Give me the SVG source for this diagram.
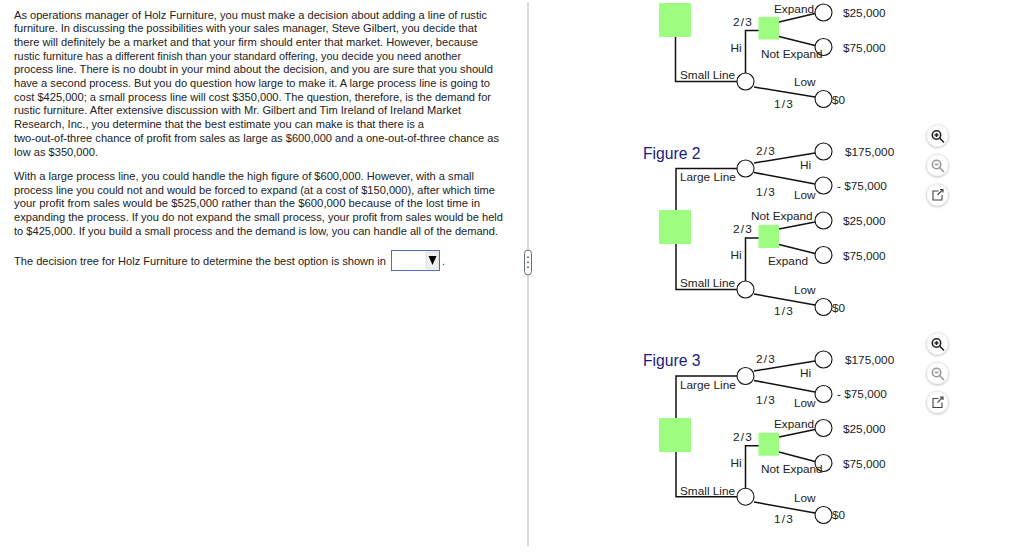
<svg xmlns="http://www.w3.org/2000/svg" width="1024" height="558" viewBox="0 0 1024 558">
<style>
text{font-family:"Liberation Sans",Arial,sans-serif;fill:#222}
.p{font-size:10.6px}
.l{font-size:11.8px}
.f{letter-spacing:1.2px}
.fig{font-size:15.7px;fill:#1a1a80}
.c{fill:#fff;stroke:#111;stroke-width:1.1}
.g{fill:#9cfd80}
.w{fill:none;stroke:#111;stroke-width:1.5}
.b{fill:#fff;filter:url(#sh)}
.i{fill:none;stroke-width:1.6}
</style>
<defs>
<filter id="sh" x="-40%" y="-40%" width="180%" height="180%"><feDropShadow dx="0" dy="0.5" stdDeviation="1.5" flood-color="#000" flood-opacity="0.4"/></filter>
<g id="zin"><circle class="b" r="10.5"/><circle class="i" cx="-1" cy="-1" r="4.2" stroke="#222" stroke-width="2"/><path class="i" d="M2 2l4.5 4.5M-3 -1h4M-1 -3v4" stroke="#222" stroke-width="2"/></g>
<g id="zout"><circle class="b" r="10.5"/><circle class="i" cx="-1" cy="-1" r="4.2" stroke="#999"/><path class="i" d="M2 2l4.5 4.5M-3 -1h4" stroke="#999"/></g>
<g id="pop"><circle class="b" r="10.5"/><path d="M1 -4h-5.500v9h9v-5M0 0l5.500 -5.500M2.500 -5.500h3v3" fill="none" stroke="#444" stroke-width="1.1"/></g>
</defs>
<rect width="1024" height="558" fill="#fff"/>
<g id="problem-text" class="p">
<text x="14" y="18.500" textLength="473" lengthAdjust="spacingAndGlyphs">As operations manager of Holz Furniture, you must make a decision about adding a line of rustic</text>
<text x="14" y="32" textLength="463" lengthAdjust="spacingAndGlyphs">furniture. In discussing the possibilities with your sales manager, Steve Gilbert, you decide that</text>
<text x="14" y="45.800" textLength="464" lengthAdjust="spacingAndGlyphs">there will definitely be a market and that your firm should enter that market.  However, because</text>
<text x="14" y="59.500" textLength="447" lengthAdjust="spacingAndGlyphs">rustic furniture has a different finish than your standard offering, you decide you need another</text>
<text x="14" y="73.200" textLength="479" lengthAdjust="spacingAndGlyphs">process line.  There is no doubt in your mind about the decision, and you are sure that you should</text>
<text x="14" y="87" textLength="476" lengthAdjust="spacingAndGlyphs">have a second process. But you do question how large to make it. A large process line is going to</text>
<text x="14" y="100.700" textLength="477" lengthAdjust="spacingAndGlyphs">cost $425,000; a small process line will cost $350,000. The question, therefore, is the demand for</text>
<text x="14" y="114.400" textLength="447" lengthAdjust="spacingAndGlyphs">rustic furniture. After extensive discussion with Mr. Gilbert and Tim Ireland of Ireland Market</text>
<text x="14" y="128" textLength="410" lengthAdjust="spacingAndGlyphs">Research, Inc., you determine that the best estimate you can make is that there is a</text>
<text x="14" y="141.800" textLength="485" lengthAdjust="spacingAndGlyphs">two-out-of-three chance of profit from sales as large as $600,000 and a one-out-of-three chance as</text>
<text x="14" y="155.500" textLength="84" lengthAdjust="spacingAndGlyphs">low as $350,000.</text>
<text x="14" y="180" textLength="460" lengthAdjust="spacingAndGlyphs">With a large process line, you could handle the high figure of $600,000. However, with a small</text>
<text x="14" y="193.700" textLength="481" lengthAdjust="spacingAndGlyphs">process line you could not and would be forced to expand (at a cost of $150,000), after which time</text>
<text x="14" y="207.400" textLength="466" lengthAdjust="spacingAndGlyphs">your profit from sales would be $525,000 rather than the $600,000 because of the lost time in</text>
<text x="14" y="221" textLength="489" lengthAdjust="spacingAndGlyphs">expanding the process. If you do not expand the small process, your profit from sales would be held</text>
<text x="14" y="235" textLength="484" lengthAdjust="spacingAndGlyphs">to $425,000. If you build a small process and the demand is low, you can handle all of the demand.</text>
<text x="14" y="265" textLength="372" lengthAdjust="spacingAndGlyphs">The decision tree for Holz Furniture to determine the best option is shown in</text>
<text x="442" y="265">.</text>
</g>
<g id="dropdown">
<rect x="391.500" y="250.500" width="48" height="20" fill="#fff" stroke="#4a6fc0" stroke-width="1"/>
<rect x="426" y="252" width="12.500" height="17" fill="#eee" stroke="#ccc" stroke-width="0.500"/>
<path d="M428.500 256h8l-4 9z" fill="#000"/>
</g>
<g id="divider">
<line x1="528" y1="2" x2="528" y2="546" stroke="#cfcfd4" stroke-width="1.500"/>
<rect x="524.500" y="250" width="7" height="25" rx="3.500" fill="#fff" stroke="#66707a" stroke-width="1"/>
<path d="M528 256.500v1.500M528 261.500v1.500M528 266.500v1.500" stroke="#444" stroke-width="1.500"/>
</g>
<g id="connectors" class="w">
<path d="M675.500 37V81.500H737"/>
<path d="M745.500 73V30.500H760"/>
<path d="M779 22L815 13.500"/><path d="M779 36.500L815 45.500"/><path d="M754 87L815 97"/>
<path d="M676 210V168.500H737"/>
<path d="M754 163L815 153"/><path d="M754 172.500L815 184"/>
<path d="M676 244V289.500H737"/>
<path d="M745.500 281V238H760"/>
<path d="M779 229L815 222"/><path d="M779 244.500L815 253.500"/><path d="M754 294L815 305"/>
<path d="M676 418V376H737"/>
<path d="M754 371L815 361"/><path d="M754 380.500L815 392"/>
<path d="M676 452V496.700H737"/>
<path d="M745.500 488V445.700H760"/>
<path d="M779 437L815 429.500"/><path d="M779 452L815 461.500"/><path d="M754 502L815 513"/>
</g>
<g id="tree1">
<rect id="n1-root" class="g" x="659" y="3" width="32" height="34"/>
<rect id="n1-dec" class="g" x="758.500" y="17" width="20.500" height="22.500"/>
<circle id="n1-chance" class="c" cx="745.500" cy="81.500" r="8.500"/>
<circle class="c" cx="823.500" cy="12.500" r="8.500"/><circle class="c" cx="823.500" cy="47" r="8.500"/><circle class="c" cx="823.500" cy="99" r="8.500"/>
<g class="l">
<text x="774" y="12.500">Expand</text><text x="843" y="17">$25,000</text>
<text class="f" x="733" y="26">2/3</text><text x="730.500" y="52">Hi</text>
<text x="761" y="58">Not Expand</text><text x="843" y="52">$75,000</text>
<text x="680" y="79">Small Line</text><text x="794" y="86">Low</text>
<text class="f" x="774" y="107.500">1/3</text><text x="832" y="104">$0</text>
</g>
</g>
<g id="figure2">
<text class="fig" x="643" y="158.500">Figure 2</text>
<rect class="g" x="659" y="210" width="32" height="34"/>
<rect class="g" x="758.500" y="225" width="20.500" height="23"/>
<circle class="c" cx="745.500" cy="168.500" r="8.500"/><circle class="c" cx="745.500" cy="289.500" r="8.500"/>
<circle class="c" cx="823.500" cy="151.500" r="8.500"/><circle class="c" cx="823.500" cy="185.500" r="8.500"/><circle class="c" cx="823.500" cy="220.500" r="8.500"/><circle class="c" cx="823.500" cy="255" r="8.500"/><circle class="c" cx="823.500" cy="307" r="8.500"/>
<g class="l">
<text class="f" x="756" y="155">2/3</text><text x="845" y="155.500">$175,000</text>
<text x="800" y="169">Hi</text><text x="680" y="181">Large Line</text>
<text class="f" x="756" y="196">1/3</text><text x="794" y="199">Low</text><text x="837" y="190">- $75,000</text>
<text x="751" y="220">Not Expand</text><text x="843" y="225">$25,000</text>
<text class="f" x="733" y="233">2/3</text><text x="730.500" y="259">Hi</text>
<text x="768" y="265">Expand</text><text x="843" y="259.500">$75,000</text>
<text x="680" y="287">Small Line</text><text x="794" y="294">Low</text>
<text class="f" x="774" y="315">1/3</text><text x="832" y="311.500">$0</text>
</g>
</g>
<g id="figure3">
<text class="fig" x="643" y="366">Figure 3</text>
<rect class="g" x="659" y="418" width="32" height="34"/>
<rect class="g" x="758.500" y="432.700" width="20.500" height="23"/>
<circle class="c" cx="745.500" cy="376" r="8.500"/><circle class="c" cx="745.500" cy="496.700" r="8.500"/>
<circle class="c" cx="823.500" cy="359.500" r="8.500"/><circle class="c" cx="823.500" cy="394" r="8.500"/><circle class="c" cx="823.500" cy="428" r="8.500"/><circle class="c" cx="823.500" cy="463" r="8.500"/><circle class="c" cx="823.500" cy="515" r="8.500"/>
<g class="l">
<text class="f" x="756" y="363">2/3</text><text x="845" y="363.500">$175,000</text>
<text x="800" y="377">Hi</text><text x="680" y="389">Large Line</text>
<text class="f" x="756" y="404">1/3</text><text x="794" y="407">Low</text><text x="837" y="398">- $75,000</text>
<text x="774" y="428">Expand</text><text x="843" y="432.500">$25,000</text>
<text class="f" x="733" y="441">2/3</text><text x="730.500" y="467">Hi</text>
<text x="761" y="473">Not Expand</text><text x="843" y="467.500">$75,000</text>
<text x="680" y="494.500">Small Line</text><text x="794" y="501.500">Low</text>
<text class="f" x="774" y="522.500">1/3</text><text x="832" y="519">$0</text>
</g>
</g>
<g id="toolbar2"><use href="#zin" x="937.500" y="136"/><use href="#zout" x="937.500" y="165.500"/><use href="#pop" x="937.500" y="195"/></g>
<g id="toolbar3"><use href="#zin" x="937.500" y="344"/><use href="#zout" x="937.500" y="373.500"/><use href="#pop" x="937.500" y="402.500"/></g>
</svg>
